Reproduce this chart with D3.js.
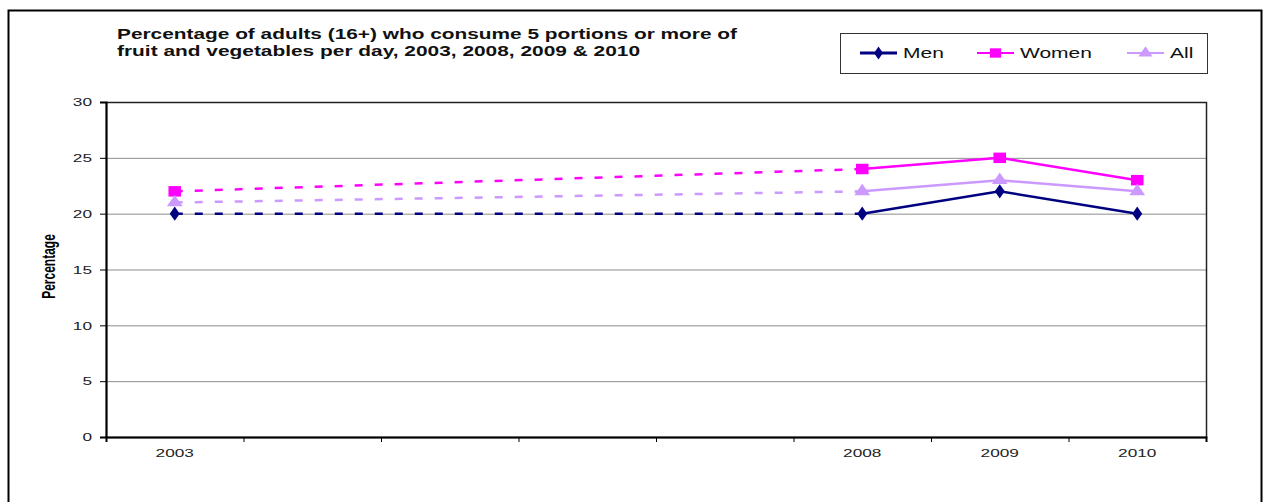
<!DOCTYPE html>
<html>
<head>
<meta charset="utf-8">
<script src="https://cdn.jsdelivr.net/npm/d3@7"></script>
<style>
  body { margin: 0; background: #fff; }
  svg { display: block; font-family: Arial, "Liberation Sans", sans-serif; }
</style>
</head>
<body>
<svg id="chart"></svg>
<script>
const years = ["2003", "2004", "2005", "2006", "2007", "2008", "2009", "2010"];
const shownYears = ["2003", "2008", "2009", "2010"];
const menValues = [20, null, null, null, null, 20, 22, 20];
const womenValues = [22, null, null, null, null, 24, 25, 23];
const allValues = [21, null, null, null, null, 22, 23, 22];
const yTicks = [0, 5, 10, 15, 20, 25, 30];

const series = [
    { name: "Men", values: menValues, color: "#000080", symbol: d3.symbolDiamond, size: 60 },
    { name: "Women", values: womenValues, color: "#ff00ff", symbol: d3.symbolSquare, size: 110 },
    { name: "All", values: allValues, color: "#cc99ff", symbol: d3.symbolTriangle, size: 75 }
];

const width = 1264, height = 502;
const margin = { top: 102, right: 58, bottom: 65, left: 106 };
const sx = 1.5; // texte étiré horizontalement comme dans l'original
const svg = d3.select("#chart").attr("width", width).attr("height", height);

// cadre extérieur
svg.append("path").attr("d", `M8.5,${height} V10.5 H1261.5 V${height}`).attr("fill", "none").attr("stroke", "#000").attr("stroke-width", 2);

const x = d3.scaleBand().domain(years).range([margin.left, width - margin.right]).padding(0);
const y = d3.scaleLinear().domain([0, 30]).range([height - margin.bottom, margin.top]);
const xEdge = d3.scaleLinear().domain([0, years.length]).range([margin.left, width - margin.right]);

// grille
svg.append("g").selectAll("line").data(yTicks.filter(d => d > 0 && d < 30)).enter().append("line")
    .attr("x1", margin.left).attr("x2", width - margin.right)
    .attr("y1", d => y(d) + 0.5).attr("y2", d => y(d) + 0.5)
    .attr("stroke", "#8c8c8c").attr("stroke-width", 1);

// bord de la zone
svg.append("rect").attr("x", margin.left + 0.5).attr("y", y(30) + 0.5)
    .attr("width", width - margin.right - margin.left).attr("height", y(0) - y(30))
    .attr("fill", "none").attr("stroke", "#222").attr("stroke-width", 1.5);

// axes
const yAxis = svg.append("g").attr("transform", `translate(${margin.left},0)`)
    .call(d3.axisLeft(y).tickValues(yTicks).tickSize(6).tickPadding(8));
yAxis.select(".domain").attr("stroke", "#000").attr("stroke-width", 2);
yAxis.selectAll("text").attr("font-size", 11.5).attr("fill", "#222")
    .attr("x", -14 / sx).attr("transform", `scale(${sx},1)`);

const xTicks = svg.append("g").attr("transform", `translate(0,${y(0)})`)
    .call(d3.axisBottom(xEdge).tickValues(d3.range(0, years.length + 1)).tickSize(5).tickFormat(""));
xTicks.select(".domain").attr("stroke", "#000").attr("stroke-width", 2);

const xLabels = svg.append("g").attr("transform", `translate(0,${y(0)})`)
    .call(d3.axisBottom(x).tickSize(0).tickPadding(12).tickFormat(d => shownYears.includes(d) ? d : ""));
xLabels.select(".domain").remove();
xLabels.selectAll("text").attr("font-size", 11.5).attr("fill", "#222").attr("transform", `scale(${sx},1)`);

svg.append("text").attr("transform", `translate(55,${(y(0) + y(30)) / 2 - 3}) scale(1.5,1) rotate(-90)`)
    .attr("text-anchor", "middle").attr("font-size", 12).attr("font-weight", "bold")
    .text("Percentage");

// titre
const title = svg.append("text").attr("y", 39).attr("font-size", 15).attr("font-weight", "bold").attr("fill", "#111");
title.append("tspan").attr("x", 117).attr("textLength", 620).attr("lengthAdjust", "spacingAndGlyphs")
    .text("Percentage of adults (16+) who consume 5 portions or more of");
title.append("tspan").attr("x", 117).attr("dy", 16.5).attr("textLength", 523).attr("lengthAdjust", "spacingAndGlyphs")
    .text("fruit and vegetables per day, 2003, 2008, 2009 & 2010");

// séries
const cx = d => x(d) + x.bandwidth() / 2;
series.forEach(s => {
    const pts = years.map((yr, i) => ({ year: yr, v: s.values[i] })).filter(d => d.v !== null);
    const line = d3.line().x(d => cx(d.year)).y(d => y(d.v));
    svg.append("path").datum(pts.slice(0, 2)).attr("fill", "none").attr("stroke", s.color)
        .attr("stroke-width", 2.5).attr("stroke-dasharray", "8,12").attr("d", line);
    svg.append("path").datum(pts.slice(1)).attr("fill", "none").attr("stroke", s.color)
        .attr("stroke-width", 2.5).attr("d", line);
    svg.append("g").selectAll("path").data(pts).enter().append("path")
        .attr("transform", d => `translate(${cx(d.year)},${y(d.v)}) scale(1.2,1)`)
        .attr("d", d3.symbol().type(s.symbol).size(s.size)).attr("fill", s.color);
});

// légende
const legend = svg.append("g");
legend.append("rect").attr("x", 840.5).attr("y", 33.5).attr("width", 367).attr("height", 40)
    .attr("fill", "#fff").attr("stroke", "#333").attr("stroke-width", 1);
const legendX = [860, 977, 1127];
series.forEach((s, i) => {
    const g = legend.append("g").attr("transform", `translate(${legendX[i]},53)`);
    g.append("line").attr("x1", 0).attr("x2", 37).attr("stroke", s.color).attr("stroke-width", i === 0 ? 3 : 2);
    g.append("path").attr("transform", "translate(18.5,0) scale(1.2,1)").attr("d", d3.symbol().type(s.symbol).size(s.size * 0.8)).attr("fill", s.color);
    g.append("text").attr("x", 43 / sx).attr("y", 5).attr("font-size", 14).attr("fill", "#111")
        .attr("transform", `scale(${sx},1)`).text(s.name);
});
</script>
</body>
</html>
